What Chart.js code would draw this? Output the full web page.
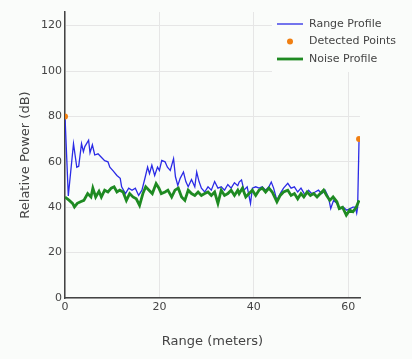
<!DOCTYPE html>
<html>
<head>
<meta charset="utf-8">
<script src="https://cdn.jsdelivr.net/npm/chart.js@4/dist/chart.umd.min.js"></script>
<style>
  html, body { margin: 0; padding: 0; background: #fafcfa; }
  #wrap { width: 412px; height: 359px; }
</style>
</head>
<body>
<div id="wrap"><canvas id="rangeChart" width="412" height="359"></canvas></div>
<script>
// range profile (blue)
const rangeDist = [0, 0.7, 1.8, 2.5, 2.9, 3.5, 3.9, 4.2, 5.0, 5.3, 5.8, 6.3, 7.0, 7.7, 8.4, 9.1, 9.5, 10.2, 11.0, 11.7,
    12.0, 12.8, 13.5, 14.2, 14.9, 15.6, 16.3, 17.0, 17.5, 17.9, 18.4, 19.0, 19.6, 20.0, 20.5, 21.2, 21.7, 22.3, 23.0, 23.4,
    23.9, 24.4, 25.1, 25.6, 26.1, 26.8, 27.5, 27.9, 28.4, 28.9, 29.6, 30.3, 31.0, 31.7, 32.4, 33.1, 33.8, 34.5, 35.2, 35.9,
    36.6, 36.9, 37.4, 37.9, 38.6, 39.3, 39.7, 40.4, 41.1, 41.8, 42.5, 43.2, 43.7, 44.2, 44.9, 45.6, 46.3, 47.2, 47.9, 48.6,
    49.3, 50.0, 50.9, 51.6, 52.3, 53.0, 53.7, 54.4, 55.1, 55.8, 56.3, 56.9, 57.6, 58.3, 59.0, 59.7, 60.4, 61.0, 61.5, 61.8,
    62.0, 62.3];
const rangePower = [80, 45, 68, 57.6, 58, 68, 64.5, 66.7, 69.5, 64, 67.5, 63, 63.5, 62, 60.5, 60, 57.6, 56, 54, 52.7,
    49, 46, 48.4, 47.5, 48.4, 45.2, 47.5, 53.3, 57.7, 54.8, 58.5, 54, 57.7, 56.2, 60.6, 60, 57.6, 56.2, 61.4, 53.4,
    49.6, 52.7, 55.5, 51.3, 49, 52.2, 49, 55.5, 51.3, 48.4, 46.7, 49, 47.5, 51.3, 48.4, 49, 47.5, 50, 48.4, 50.8,
    49.5, 51.1, 52, 47.5, 49, 41.7, 48.4, 49, 48.4, 49, 47.5, 49, 51.1, 48.4, 43, 46, 48.4, 50.5, 48.4, 49,
    46.7, 48.4, 45.2, 47.5, 46, 46.7, 47.5, 46, 47.5, 44.5, 39.4, 43, 41.7, 39.4, 40, 38.7, 39.4, 40, 40, 37.4,
    40, 70];

// detected points (orange)
const detectedDist = [0, 62.3];
const detectedPower = [80, 70];

// noise profile (green)
const noiseDist = [0, 0.9, 1.6, 2.0, 2.6, 3.3, 4.0, 4.8, 5.5, 5.9, 6.5, 7.2, 7.7, 8.4, 9.1, 9.8, 10.4, 11.0, 11.6, 12.3,
    13.0, 13.7, 14.4, 15.1, 15.8, 16.5, 17.1, 17.8, 18.5, 19.3, 19.9, 20.4, 21.2, 21.8, 22.6, 23.3, 24.0, 24.7, 25.4, 26.1,
    26.8, 27.5, 28.2, 28.9, 29.6, 30.3, 31.0, 31.7, 32.4, 33.1, 33.8, 34.5, 35.2, 35.9, 36.6, 36.9, 37.6, 38.3, 39.0, 39.7,
    40.4, 41.1, 41.8, 42.5, 43.2, 43.9, 44.9, 45.6, 46.3, 47.2, 47.9, 48.6, 49.3, 50.0, 50.6, 51.3, 52.0, 52.7, 53.4, 54.1,
    54.8, 55.4, 56.1, 56.8, 57.6, 58.1, 58.8, 59.6, 60.3, 61.0, 61.7, 62.3];
const noisePower = [44.5, 43, 41.7, 40.1, 41.7, 42.4, 43, 46, 44.5, 48.4, 44.5, 47, 44.5, 47.5, 46.7, 48.4, 49, 46.7, 47.5, 46.7,
    43, 46, 44.5, 43.7, 40.8, 46, 49, 47.5, 46, 50.4, 48.4, 46, 46.7, 47.5, 44.5, 47.5, 48.4, 44.5, 43, 47.5,
    46, 45.2, 46.7, 45.2, 46, 46.7, 45.2, 46.7, 41.7, 47.5, 45.2, 46, 47.5, 45.2, 47.5, 46, 48.4, 44.5, 46, 47.5,
    45.2, 47.5, 48.4, 46.7, 48.4, 46.7, 42.4, 45.2, 46.7, 47.5, 45.2, 46, 43.7, 46, 44.5, 46.7, 45.2, 46, 44.5, 46,
    47.5, 45.2, 43, 44.5, 42.4, 39.4, 40, 36.5, 38.7, 38, 40, 43];

const xMax = 62.5;
const yMax = 126;

const toPoints = (xs, ys) => xs.map((x, i) => ({ x: x, y: ys[i] }));

Chart.defaults.font.family = "'DejaVu Sans', Verdana, sans-serif";
Chart.defaults.color = "#444";

const bgPlugin = {
    id: "bg",
    beforeDraw(chart) {
        const c = chart.ctx;
        c.save();
        c.fillStyle = "#fafcfa";
        c.fillRect(0, 0, chart.width, chart.height);
        c.restore();
    }
};

// plotly-style legend sitting inside the top right corner
const legendPlugin = {
    id: "boxLegend",
    afterDraw(chart) {
        const c = chart.ctx;
        c.save();
        c.fillStyle = "#fafcfa";
        c.fillRect(272, 10, 136, 62);
        c.font = "11px 'DejaVu Sans'";
        c.textBaseline = "middle";
        c.textAlign = "left";
        const items = [chart.data.datasets[0], chart.data.datasets[1], chart.data.datasets[2]];
        items.forEach((ds, i) => {
            const y = 24 + i * 17.5;
            if (ds.showLine === false) {
                c.fillStyle = ds.pointBackgroundColor;
                c.beginPath();
                c.arc(290, y, 3, 0, Math.PI * 2);
                c.fill();
            } else {
                c.strokeStyle = ds.borderColor;
                c.lineWidth = ds.borderWidth;
                c.beginPath();
                c.moveTo(277, y);
                c.lineTo(303, y);
                c.stroke();
            }
            c.fillStyle = "#444";
            c.fillText(ds.label, 309, y);
        });
        c.restore();
    }
};

const ctx = document.getElementById("rangeChart").getContext("2d");
new Chart(ctx, {
    type: "line",
    data: {
        datasets: [{
            label: "Range Profile",
            data: toPoints(rangeDist, rangePower),
            borderColor: "#2b2be6",
            borderWidth: 1.3,
            pointRadius: 0,
            tension: 0,
            order: 2
        }, {
            label: "Detected Points",
            data: toPoints(detectedDist, detectedPower),
            showLine: false,
            pointRadius: 3,
            pointBackgroundColor: "#f07f12",
            pointBorderWidth: 0,
            borderColor: "#f07f12",
            order: 0
        }, {
            label: "Noise Profile",
            data: toPoints(noiseDist, noisePower),
            borderColor: "#1e8a22",
            borderWidth: 2.8,
            pointRadius: 0,
            tension: 0,
            order: 1
        }]
    },
    options: {
        responsive: false,
        animation: false,
        devicePixelRatio: 1,
        layout: {
            padding: { left: 14, top: 12, right: 52, bottom: 0 }
        },
        plugins: {
            legend: { display: false },
            tooltip: { enabled: false }
        },
        scales: {
            x: {
                type: "linear",
                min: 0,
                max: xMax,
                afterFit: s => { s.height = 61; },
                ticks: { stepSize: 20, includeBounds: false, padding: 3, font: { size: 11 }, color: "#444" },
                grid: { color: "#e6e6e6", drawTicks: false },
                border: { display: true, color: "#444", width: 1.5 },
                title: {
                    display: true,
                    text: "Range (meters)",
                    font: { size: 13 },
                    color: "#444",
                    padding: { top: 4, bottom: 10 }
                }
            },
            y: {
                min: 0,
                max: yMax,
                afterFit: s => { s.width = 51; },
                ticks: { stepSize: 20, includeBounds: false, padding: 3, font: { size: 11 }, color: "#444" },
                grid: { color: "#e6e6e6", drawTicks: false },
                border: { display: true, color: "#444", width: 1.5 },
                title: {
                    display: true,
                    text: "Relative Power (dB)",
                    font: { size: 13 },
                    color: "#444",
                    padding: { top: 4, bottom: 4 }
                }
            }
        }
    },
    plugins: [bgPlugin, legendPlugin]
});
</script>
</body>
</html>
